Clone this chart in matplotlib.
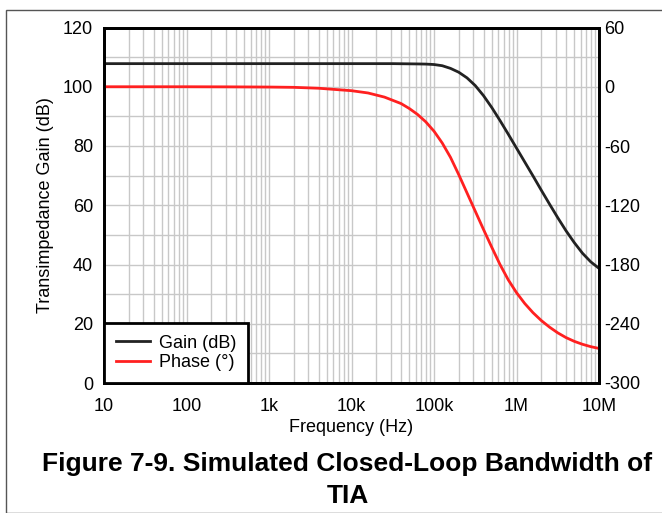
import matplotlib
matplotlib.use("Agg")
import matplotlib.pyplot as plt
from matplotlib.ticker import FixedLocator, LogLocator, NullFormatter
from matplotlib.patches import Rectangle

plt.rcParams['font.family'] = ['Liberation Sans', 'DejaVu Sans']
plt.rcParams['axes.unicode_minus'] = False

# log10(frequency in Hz)
gain_logf = [1.0, 2.0, 3.0, 4.0, 4.5, 4.8, 4.9, 5.0, 5.1, 5.2, 5.3, 5.4, 5.5, 5.6,
             5.7, 5.8, 5.9, 6.0, 6.1, 6.2, 6.3, 6.4, 6.5, 6.6, 6.7, 6.8, 6.9, 7.0]
gain_db = [107.8, 107.8, 107.8, 107.8, 107.8, 107.7, 107.65, 107.5, 107.1, 106.2,
           104.9, 103.0, 100.4, 97.0, 93.0, 88.6, 84.0, 79.3, 74.6, 69.9, 65.1,
           60.4, 55.8, 51.4, 47.4, 43.8, 40.9, 38.7]

phase_logf = [1.0, 2.0, 2.5, 3.0, 3.3, 3.6, 4.0, 4.2, 4.4, 4.6, 4.7, 4.8, 4.9, 5.0,
              5.1, 5.2, 5.3, 5.4, 5.5, 5.6, 5.7, 5.8, 5.9, 6.0, 6.1, 6.2, 6.3, 6.4,
              6.5, 6.6, 6.7, 6.8, 6.9, 7.0]
phase_deg = [0, 0, -0.1, -0.3, -0.6, -1.5, -4, -6.3, -10.5, -17, -22, -28, -35.5,
             -45, -57, -71.5, -89, -107.5, -126, -144.5, -162.5, -180, -195.5,
             -208.5, -219.5, -228.8, -236.7, -243.4, -249.2, -254, -257.8, -260.8,
             -263.2, -265]

x_ticks = [10, 100, 1e3, 1e4, 1e5, 1e6, 1e7]
x_labels = ['10', '100', '1k', '10k', '100k', '1M', '10M']
left_ticks = [0, 20, 40, 60, 80, 100, 120]
right_ticks = [60, 0, -60, -120, -180, -240, -300]

W, H = 662, 513
fig = plt.figure(figsize=(W / 100, H / 100), dpi=100)

# outer frame
fig.patches.append(Rectangle((6 / W, 0), 1.2, 1 - 10 / H, transform=fig.transFigure,
                             fill=False, edgecolor='#555555', linewidth=1.0))

ax = fig.add_axes([104 / W, 1 - 383 / H, 495 / W, 355.5 / H])
ax2 = ax.twinx()

gx = [10 ** v for v in gain_logf]
px = [10 ** v for v in phase_logf]
ln1, = ax.plot(gx, gain_db, color='#222222', lw=2.0, label='Gain (dB)')
ln2, = ax2.plot(px, phase_deg, color='#ff2020', lw=2.0, label='Phase (°)')

ax.set_xscale('log')
ax.set_xlim(10, 1e7)
ax.set_ylim(0, 120)
ax2.set_ylim(-300, 60)

ax.xaxis.set_major_locator(FixedLocator(x_ticks))
ax.set_xticklabels(x_labels)
ax.xaxis.set_minor_locator(LogLocator(base=10, subs=range(2, 10), numticks=100))
ax.xaxis.set_minor_formatter(NullFormatter())
ax.set_yticks(left_ticks)
ax.yaxis.set_minor_locator(FixedLocator(list(range(0, 121, 10))))
ax2.set_yticks(right_ticks)

gc = '#c8c8c8'
ax.grid(True, which='major', axis='x', color=gc, lw=1.0)
ax.grid(True, which='minor', axis='x', color=gc, lw=1.0)
ax.grid(True, which='both', axis='y', color=gc, lw=1.0)
ax.set_axisbelow(True)

for a in (ax, ax2):
    a.tick_params(which='both', length=0, labelsize=13)
    for s in a.spines.values():
        s.set_linewidth(2.0)
        s.set_color('black')
ax.tick_params(axis='x', pad=11)
ax.tick_params(axis='y', pad=8)
ax2.tick_params(axis='y', pad=4)

ax.set_xlabel('Frequency (Hz)', fontsize=13, labelpad=3)
ax.set_ylabel('Transimpedance Gain (dB)', fontsize=13, labelpad=6)

leg = ax2.legend(handles=[ln1, ln2], loc='lower left', bbox_to_anchor=(0, 0),
                 borderaxespad=0, fancybox=False, framealpha=1, fontsize=13,
                 handlelength=1.9, handletextpad=0.5, borderpad=0.65,
                 labelspacing=0.15)
leg.get_frame().set_edgecolor('black')
leg.get_frame().set_linewidth(2.0)

fig.text(0.525, 1 - 464 / H, 'Figure 7-9. Simulated Closed-Loop Bandwidth of',
         ha='center', va='center', fontsize=19, fontweight='bold')
fig.text(0.525, 1 - 496 / H, 'TIA', ha='center', va='center',
         fontsize=19, fontweight='bold')

fig.savefig('out.png', dpi=100)
